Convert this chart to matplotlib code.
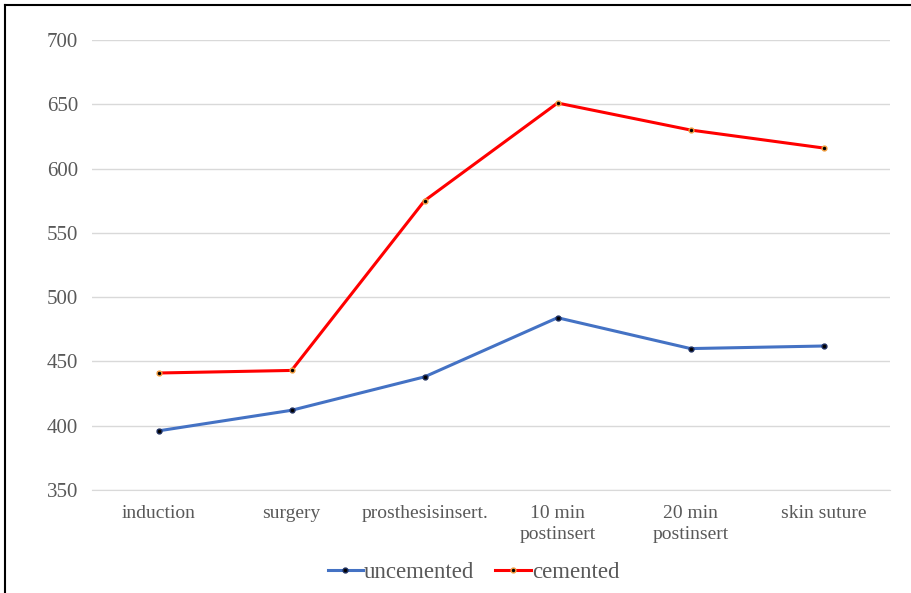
import numpy as np
import matplotlib.pyplot as plt
from matplotlib.lines import Line2D

plt.rcParams['font.family'] = ['Liberation Serif', 'DejaVu Serif']

stages = ['induction', 'surgery', 'prosthesisinsert.', '10 min\npostinsert',
          '20 min\npostinsert', 'skin suture']
uncemented = [396, 412, 438, 484, 460, 462]
cemented = [441, 443, 575, 651, 630, 616]
yticks = [350, 400, 450, 500, 550, 600, 650, 700]

fig = plt.figure(figsize=(9.12, 5.93), dpi=100)
ax = fig.add_axes([0.1009, 0.1737, 0.8750, 0.7588])

x = np.arange(len(stages))
ax.plot(x, uncemented, '-', color='#4472C4', lw=2.2, marker='o', ms=3.5,
        mfc='black', mec='#1F2F5F', label='uncemented', zorder=3)
ax.plot(x, cemented, '-', color='#FF0000', lw=2.2, marker='o', ms=3.5,
        mfc='black', mec='#F4A040', label='cemented', zorder=3)

ax.set_xlim(-0.5, len(stages) - 0.5)
ax.set_ylim(350, 700)
ax.set_yticks(yticks)
ax.set_xticks(x)
ax.set_xticklabels(stages, fontsize=14, color='#595959', linespacing=1.25)
ax.tick_params(axis='y', labelsize=15, colors='#595959', length=0, pad=10)
ax.tick_params(axis='x', length=0, pad=11)
ax.grid(axis='y', color='#D9D9D9', lw=1)
ax.set_axisbelow(True)
for s in ax.spines.values():
    s.set_visible(False)
ax.spines['bottom'].set_visible(True)
ax.spines['bottom'].set_color('#D9D9D9')

ax.legend(loc='upper center', bbox_to_anchor=(0.478, -0.114), ncol=2, frameon=False,
          fontsize=16.5, handlelength=1.55, handletextpad=0.05, columnspacing=0.9,
          labelcolor='#595959')

# frame line on left and top
fig.add_artist(Line2D([5.5 / 912, 5.5 / 912], [0, 1 - 4.5 / 593], color='black', lw=1.5))
fig.add_artist(Line2D([5.5 / 912, 1], [1 - 4.5 / 593, 1 - 4.5 / 593], color='black', lw=1.5))

fig.savefig('out.png', dpi=100)
